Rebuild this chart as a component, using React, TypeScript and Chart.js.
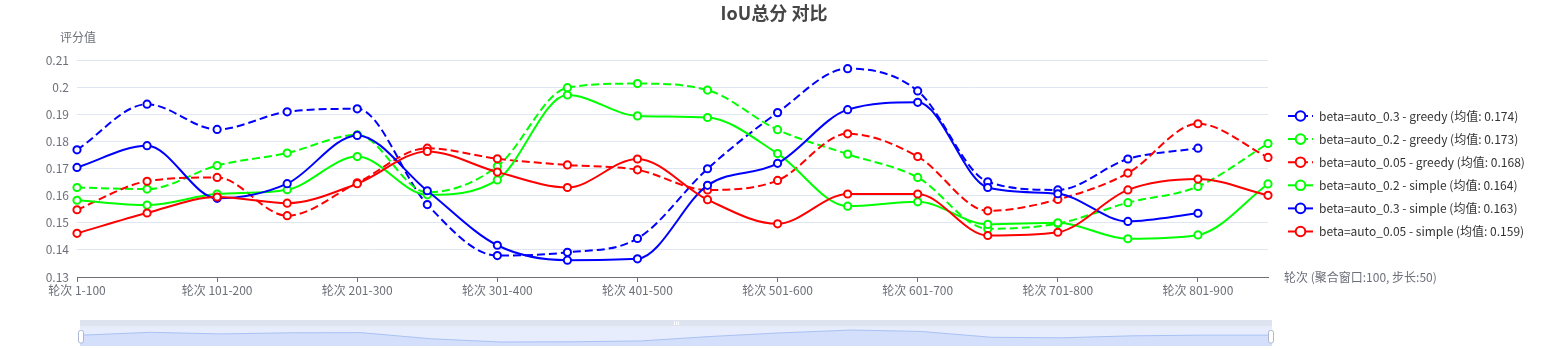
import React, { useEffect, useRef } from "react";
import { Chart, registerables } from "chart.js";

Chart.register(...registerables);

const FONT = "'Microsoft YaHei', 'Noto Sans CJK SC', sans-serif";

const categories = [
  "轮次 1-100", "轮次 51-150", "轮次 101-200", "轮次 151-250", "轮次 201-300",
  "轮次 251-350", "轮次 301-400", "轮次 351-450", "轮次 401-500", "轮次 451-550",
  "轮次 501-600", "轮次 551-650", "轮次 601-700", "轮次 651-750", "轮次 701-800",
  "轮次 751-850", "轮次 801-900", "轮次 851-950",
];

const beta03Greedy = [0.1769, 0.1937, 0.1844, 0.1909, 0.192, 0.1567, 0.1379, 0.1391, 0.1442, 0.1699, 0.1906, 0.2068, 0.1986, 0.1651, 0.1621, 0.1735, 0.1775, null];
const beta02Greedy = [0.163, 0.1624, 0.1711, 0.1757, 0.1824, 0.1612, 0.1708, 0.1998, 0.2013, 0.1989, 0.1843, 0.1753, 0.1667, 0.1478, 0.1497, 0.1574, 0.1634, 0.1792];
const beta005Greedy = [0.1548, 0.1653, 0.1667, 0.1526, 0.1647, 0.1775, 0.1736, 0.1713, 0.1695, 0.1621, 0.1656, 0.1828, 0.1744, 0.1544, 0.1586, 0.1683, 0.1865, 0.1741];
const beta02Simple = [0.1583, 0.1565, 0.1606, 0.1622, 0.1744, 0.1603, 0.1658, 0.1971, 0.1894, 0.1888, 0.1755, 0.1561, 0.1577, 0.1494, 0.15, 0.1441, 0.1455, 0.1643];
const beta03Simple = [0.1704, 0.1784, 0.159, 0.1644, 0.1822, 0.1618, 0.1417, 0.1362, 0.1367, 0.1638, 0.1719, 0.1917, 0.1944, 0.163, 0.1607, 0.1505, 0.1535, null];
const beta005Simple = [0.1461, 0.1536, 0.1595, 0.1572, 0.1644, 0.1763, 0.1687, 0.163, 0.1735, 0.1585, 0.1496, 0.1606, 0.1606, 0.1453, 0.1465, 0.1621, 0.1661, 0.1601];

const seriesLabels = [
  "beta=auto_0.3 - greedy (均值: 0.174)",
  "beta=auto_0.2 - greedy (均值: 0.173)",
  "beta=auto_0.05 - greedy (均值: 0.168)",
  "beta=auto_0.2 - simple (均值: 0.164)",
  "beta=auto_0.3 - simple (均值: 0.163)",
  "beta=auto_0.05 - simple (均值: 0.159)",
];
const seriesData = [beta03Greedy, beta02Greedy, beta005Greedy, beta02Simple, beta03Simple, beta005Simple];
const seriesColors = ["#0000ff", "#00ff00", "#ff0000", "#00ff00", "#0000ff", "#ff0000"];
const seriesDashed = [true, true, true, false, false, false];

const TITLE = "IoU总分 对比";
const Y_NAME = "评分值";
const X_NAME = "轮次 (聚合窗口:100, 步长:50)";
const Y_MIN = 0.13;
const Y_MAX = 0.21;
const Y_STEP = 0.01;

export default function App() {
  const mainRef = useRef<HTMLCanvasElement>(null);
  const zoomRef = useRef<HTMLCanvasElement>(null);

  useEffect(() => {
    const decor = {
      id: "decor",
      afterDraw(chart: any) {
        const ctx = chart.ctx;
        const area = chart.chartArea;
        ctx.save();
        // title
        ctx.fillStyle = "#464646";
        ctx.font = `bold 18px ${FONT}`;
        ctx.textAlign = "center";
        ctx.textBaseline = "middle";
        ctx.fillText(TITLE, 774, 13);
        // y name
        ctx.fillStyle = "#6E7079";
        ctx.font = `12px ${FONT}`;
        ctx.fillText(Y_NAME, area.left + 1, 37);
        // x name
        ctx.textAlign = "left";
        ctx.fillText(X_NAME, area.right + 16, area.bottom);
        // legend
        for (let i = 0; i < seriesLabels.length; i++) {
          const y = 116 + i * 23.1;
          const x0 = 1288;
          ctx.strokeStyle = seriesColors[i];
          ctx.lineWidth = 2;
          ctx.setLineDash(seriesDashed[i] ? [8, 4] : []);
          ctx.beginPath();
          ctx.moveTo(x0, y);
          ctx.lineTo(x0 + 25, y);
          ctx.stroke();
          ctx.setLineDash([]);
          ctx.beginPath();
          ctx.arc(x0 + 12.5, y, 4.8, 0, Math.PI * 2);
          ctx.fillStyle = "#fff";
          ctx.fill();
          ctx.stroke();
          ctx.fillStyle = "#333";
          ctx.font = `12px ${FONT}`;
          ctx.textAlign = "left";
          ctx.textBaseline = "middle";
          ctx.fillText(seriesLabels[i], x0 + 31, y);
        }
        ctx.restore();
      },
    };

    const datasets = seriesData.map((d, i) => ({
      label: seriesLabels[i],
      data: d,
      borderColor: seriesColors[i],
      backgroundColor: "#fff",
      pointBackgroundColor: "#fff",
      pointBorderColor: seriesColors[i],
      borderWidth: 2,
      pointBorderWidth: 2,
      pointRadius: 3.6,
      borderDash: seriesDashed[i] ? [8, 4] : [],
      cubicInterpolationMode: "monotone" as const,
      fill: false,
      spanGaps: false,
      order: seriesData.length - 1 - i,
    }));

    const main = new Chart(mainRef.current!, {
      type: "line",
      data: { labels: categories, datasets },
      options: {
        animation: false,
        responsive: false,
        events: [],
        layout: { padding: { left: 0, right: 280, top: 60, bottom: 0 } },
        plugins: { legend: { display: false }, tooltip: { enabled: false }, title: { display: false } },
        scales: {
          x: {
            type: "category",
            offset: false,
            grid: {
              display: true,
              drawOnChartArea: false,
              drawTicks: true,
              tickLength: 5,
              color: (c: any) => (c.index % 2 === 0 ? "#6E7079" : "rgba(0,0,0,0)"),
            },
            border: { display: true, color: "#6E7079", width: 1 },
            ticks: {
              autoSkip: false,
              maxRotation: 0,
              minRotation: 0,
              padding: 1,
              color: "#6E7079",
              font: { size: 12, family: FONT },
              callback: (_v: any, i: number) => (i % 2 === 0 ? categories[i] : ""),
            },
            afterFit: (s: any) => {
              s.height = 33;
            },
          },
          y: {
            min: Y_MIN,
            max: Y_MAX,
            ticks: {
              stepSize: Y_STEP,
              padding: 8,
              color: "#6E7079",
              font: { size: 12, family: FONT },
              callback: (v: any) => String(Number(Number(v).toFixed(2))),
            },
            grid: { color: "#E0E6F1", drawTicks: false },
            border: { display: false },
            afterFit: (s: any) => {
              s.width = 77;
            },
          },
        },
      },
      plugins: [decor],
    });

    const shadow: number[] = [];
    let last = 0;
    for (const v of beta03Greedy) {
      if (v !== null) last = v;
      shadow.push(last);
    }

    const sliderDecor = {
      id: "sliderDecor",
      beforeDatasetsDraw(chart: any) {
        const ctx = chart.ctx;
        const a = chart.chartArea;
        ctx.save();
        ctx.fillStyle = "#dee3f0";
        ctx.fillRect(80, 10, 1192, a.top - 10);
        ctx.fillStyle = "#e7edfc";
        ctx.fillRect(80, a.top, 1192, a.bottom - a.top);
        ctx.restore();
      },
      afterDraw(chart: any) {
        const ctx = chart.ctx;
        ctx.save();
        ctx.strokeStyle = "#fff";
        ctx.lineWidth = 1;
        for (const dx of [-2, 0, 2]) {
          ctx.beginPath();
          ctx.moveTo(676.5 + dx, 11.5);
          ctx.lineTo(676.5 + dx, 15);
          ctx.stroke();
        }
        ctx.fillStyle = "#fff";
        ctx.strokeStyle = "#ACB8D1";
        for (const hx of [81, 1271]) {
          ctx.beginPath();
          const x = hx - 2.5;
          const y = 20.5;
          const w = 5;
          const h = 12.5;
          ctx.roundRect(x, y, w, h, 2);
          ctx.fill();
          ctx.stroke();
        }
        ctx.restore();
      },
    };

    const slider = new Chart(zoomRef.current!, {
      type: "line",
      data: {
        labels: categories,
        datasets: [
          {
            data: shadow,
            borderColor: "#a9c1f3",
            borderWidth: 1,
            backgroundColor: "#d3dffb",
            fill: "start",
            pointRadius: 0,
            tension: 0,
          },
        ],
      },
      options: {
        animation: false,
        responsive: false,
        events: [],
        layout: { padding: { left: 80, right: 276, top: 16.7, bottom: 4 } },
        plugins: { legend: { display: false }, tooltip: { enabled: false } },
        scales: {
          x: { display: false, offset: false },
          y: { display: false, min: 0.115, max: 0.226 },
        },
      },
      plugins: [sliderDecor],
    });

    return () => {
      main.destroy();
      slider.destroy();
    };
  }, []);

  return (
    <div style={{ position: "absolute", left: 0, top: 0, width: 1548, height: 350, background: "#fff" }}>
      <canvas ref={mainRef} width={1548} height={310} style={{ position: "absolute", left: 0, top: 0 }} />
      <canvas ref={zoomRef} width={1548} height={40} style={{ position: "absolute", left: 0, top: 310 }} />
    </div>
  );
}
